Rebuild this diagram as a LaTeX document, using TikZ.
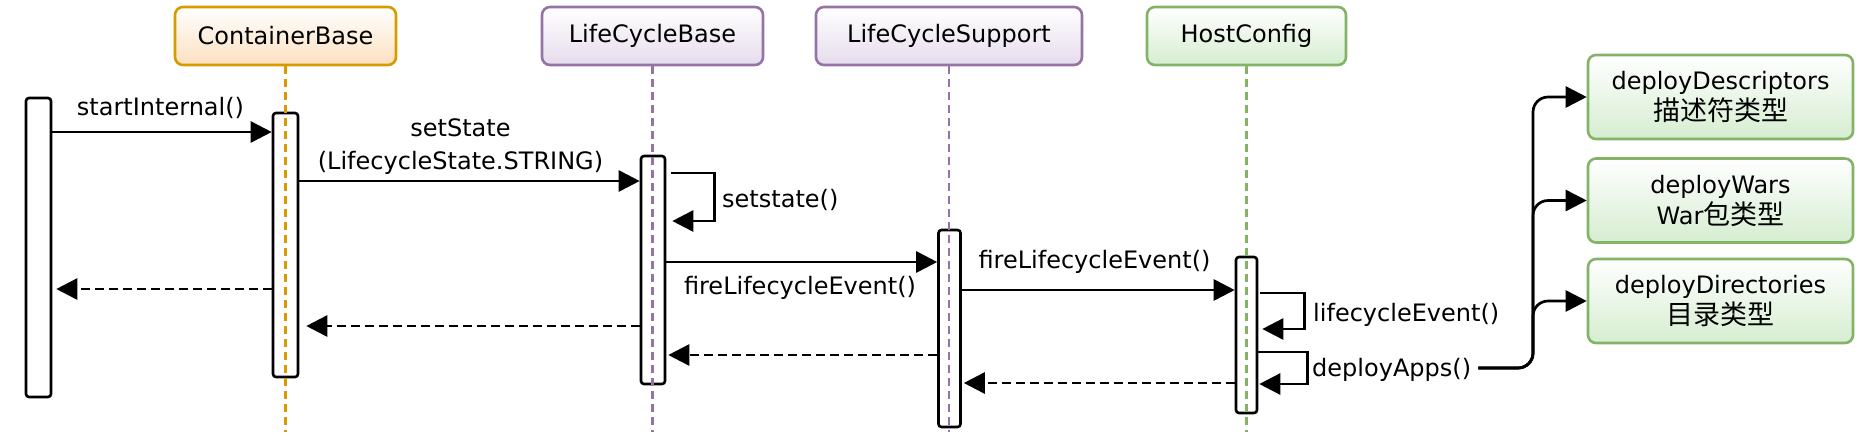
\documentclass[tikz,border=0pt]{standalone}
\usepackage{fontspec}
\setmainfont{DejaVu Sans}
\newfontfamily\cjk{Noto Sans CJK SC}
\usetikzlibrary{arrows.meta}
\definecolor{orgB}{HTML}{D79B00}
\definecolor{orgF}{HTML}{FCE0C0}
\definecolor{purB}{HTML}{9673A6}
\definecolor{purF}{HTML}{E6DCEC}
\definecolor{grnB}{HTML}{82B366}
\definecolor{grnF}{HTML}{D5EDD0}
\newcommand{\zh}[1]{{\cjk\fontsize{27}{31}\selectfont #1}}
\tikzset{
  hdr/.style={draw, line width=2.6pt, rounded corners=8pt, minimum height=58pt, inner sep=0pt,
    font=\fontsize{24}{30}\selectfont, top color=white},
  orghdr/.style={hdr, draw=orgB, bottom color=orgF},
  purhdr/.style={hdr, draw=purB, bottom color=purF},
  grnhdr/.style={hdr, draw=grnB, bottom color=grnF},
  grnbox/.style={grnhdr, minimum width=265pt, minimum height=84pt, align=center,
    font=\fontsize{24}{31}\selectfont},
  actbar/.style={draw=black, fill=white, line width=2.6pt, rounded corners=3pt, inner sep=0pt},
  msg/.style={line width=2.7pt, -{Triangle[length=21pt,width=21pt]}},
  ret/.style={msg, dash pattern=on 9pt off 5pt},
  life/.style={line width=2.5pt, dash pattern=on 8pt off 5pt},
  lbl/.style={font=\fontsize{24}{33}\selectfont, inner sep=0pt, align=center},
}
\begin{document}
\begin{tikzpicture}[x=1pt,y=-1pt]
\useasboundingbox (0,0) rectangle (1862,440);
% headers
\node[orghdr, minimum width=221pt] (cb) at (285.5,36) {ContainerBase};
\node[purhdr, minimum width=221pt] (lcb) at (652.5,36) {LifeCycleBase};
\node[purhdr, minimum width=266pt] (lcs) at (949,36) {LifeCycleSupport};
\node[grnhdr, minimum width=199pt] (hc) at (1246.5,36) {HostConfig};
% right boxes
\node[grnbox] (d1) at (1720.5,97) {deployDescriptors\\\zh{描述符类型}};
\node[grnbox] (d2) at (1720.5,200.5) {deployWars\\War\zh{包类型}};
\node[grnbox] (d3) at (1720.5,301) {deployDirectories\\\zh{目录类型}};
% activation bars
\node[actbar, minimum width=25pt, minimum height=299pt] (lb) at (38.5,247.5) {};
\node[actbar, minimum width=25pt, minimum height=264pt] (cbbar) at (285.5,245) {};
\node[actbar, minimum width=24pt, minimum height=228pt] (lcbbar) at (653,270) {};
\node[actbar, minimum width=22pt, minimum height=197pt] (lcsbar) at (949.5,328.5) {};
\node[actbar, minimum width=21pt, minimum height=156pt] (hcbar) at (1246.5,335) {};
% lifelines
\coordinate (bot) at (0,432);
\draw[life, orgB] (cb.south) -- (cb.south |- bot);
\draw[life, purB] (lcb.south) -- (lcb.south |- bot);
\draw[life, purB] (lcs.south) -- (lcs.south |- bot);
\draw[life, grnB] (hc.south) -- (hc.south |- bot);
% rows
\coordinate (r1) at (0,132);
\coordinate (r2) at (0,181);
\coordinate (r3a) at (0,173);
\coordinate (r3b) at (0,221);
\coordinate (r4) at (0,262);
\coordinate (r5) at (0,290);
\coordinate (r6a) at (0,293);
\coordinate (r6b) at (0,329);
\coordinate (r7a) at (0,352);
\coordinate (r7b) at (0,384);
\coordinate (d1r) at (0,289);
\coordinate (d2r) at (0,326);
\coordinate (d3r) at (0,355);
\coordinate (d4r) at (0,383);
% calls
\draw[msg] (lb.east |- r1) -- (cbbar.west |- r1);
\node[lbl] (t1) at (160.5,108) {startInternal()};
\draw[msg] (cbbar.east |- r2) -- (lcbbar.west |- r2);
\node[lbl] (t2) at (460.5,146.5) {setState\\(LifecycleState.STRING)};
\draw[msg] ([xshift=5pt]lcbbar.east |- r3a) -- ++(43,0) |- ([xshift=6pt]lcbbar.east |- r3b);
\node[lbl, anchor=west] (t3) at (722,200) {setstate()};
\draw[msg] (lcbbar.east |- r4) -- (lcsbar.west |- r4);
\node[lbl] (t4) at (800,288) {fireLifecycleEvent()};
\draw[msg] (lcsbar.east |- r5) -- (hcbar.west |- r5);
\node[lbl] (t5) at (1094.5,262) {fireLifecycleEvent()};
\draw[msg] ([xshift=2pt]hcbar.east |- r6a) -- ++(44,0) |- ([xshift=4pt]hcbar.east |- r6b);
\node[lbl, anchor=west] (t6) at (1313,315) {lifecycleEvent()};
\draw[msg] (hcbar.east |- r7a) -- ++(49,0) |- ([xshift=1pt]hcbar.east |- r7b);
\node[lbl, anchor=west] (da) at (1312,370) {deployApps()};
% returns
\draw[ret] (cbbar.west |- d1r) -- ([xshift=4pt]lb.east |- d1r);
\draw[ret] (lcbbar.west |- d2r) -- ([xshift=7pt]cbbar.east |- d2r);
\draw[ret] (lcsbar.west |- d3r) -- ([xshift=2pt]lcbbar.east |- d3r);
\draw[ret] (hcbar.west |- d4r) -- ([xshift=2pt]lcsbar.east |- d4r);
% deploy branches
\coordinate (vx) at (1533,368);
\draw[msg, rounded corners=15pt] ([xshift=7pt]da.east |- vx) -| (vx |- d1.west) -- (d1.west);
\draw[msg, rounded corners=15pt] ([xshift=7pt]da.east |- vx) -| (vx |- d2.west) -- (d2.west);
\draw[msg, rounded corners=15pt] ([xshift=7pt]da.east |- vx) -| (vx |- d3.west) -- (d3.west);
\end{tikzpicture}
\end{document}
